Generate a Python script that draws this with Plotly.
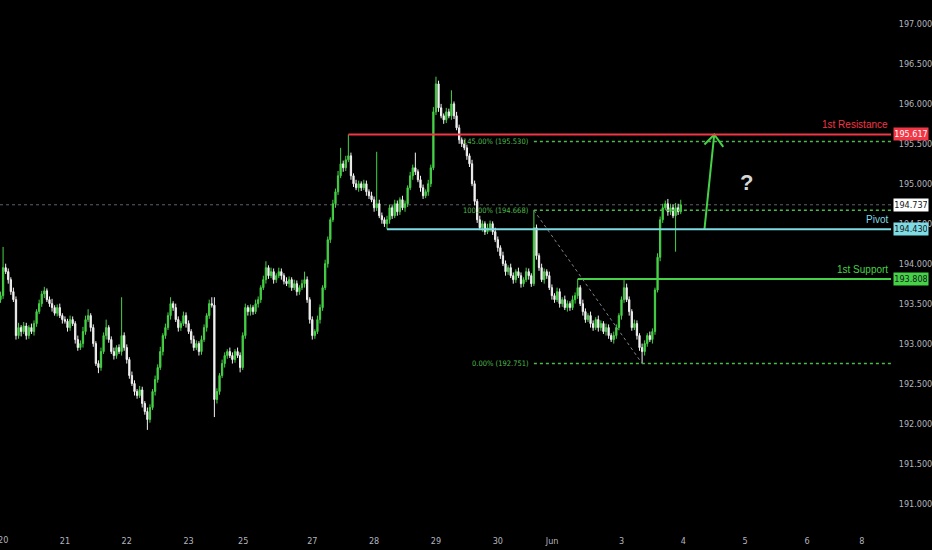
import plotly.graph_objects as go

# ---------------- DATA (hourly bars, index 0 = start of May 20) ----------------
bar_start = -1
closes_pre = [193.60]
closes_d20 = [193.95, 193.90, 193.80, 193.65, 193.55, 193.10, 193.20, 193.15, 193.22, 193.10, 193.20, 193.15,
              193.25, 193.40, 193.50, 193.62, 193.66, 193.55, 193.50, 193.45, 193.38, 193.45, 193.35, 193.30]
closes_d21 = [193.28, 193.20, 193.30, 193.25, 193.05, 192.95, 193.00, 193.15, 193.30, 193.35, 193.20, 193.00,
              192.75, 192.70, 192.90, 193.10, 193.20, 193.05, 192.90, 192.85, 192.95, 192.90, 193.10, 192.95]
closes_d22 = [192.80, 192.60, 192.50, 192.40, 192.35, 192.42, 192.25, 192.15, 192.05, 192.20, 192.40, 192.55,
              192.70, 192.90, 193.10, 193.20, 193.35, 193.50, 193.45, 193.30, 193.20, 193.25, 193.35, 193.25]
closes_d23 = [193.15, 193.05, 192.95, 193.00, 192.90, 193.05, 193.20, 193.35, 193.50, 193.48, 192.30, 192.40,
              192.60, 192.75, 192.85, 192.90, 192.85, 192.80, 192.90, 192.85, 192.70]
closes_d25 = [193.10, 193.45, 193.40]
closes_d26 = [193.45, 193.40, 193.50, 193.55, 193.70, 193.80, 193.95, 193.85, 193.90, 193.80, 193.85, 193.90,
              193.85, 193.78, 193.75, 193.80, 193.70, 193.75, 193.65, 193.70, 193.75, 193.80, 193.55, 193.30]
closes_d27 = [193.10, 193.15, 193.30, 193.45, 193.70, 194.00, 194.30, 194.55, 194.75, 194.90, 195.10, 195.25,
              195.20, 195.30, 195.35, 195.10, 195.00, 194.95, 195.00, 194.95, 195.00, 194.90, 194.85, 194.80]
closes_d28 = [194.70, 194.75, 194.60, 194.55, 194.50, 194.55, 194.70, 194.60, 194.75, 194.65, 194.80, 194.70,
              194.75, 194.95, 195.10, 195.20, 195.15, 195.05, 194.95, 194.85, 194.90, 195.00, 195.20, 195.90]
closes_d29 = [196.25, 195.95, 195.85, 195.80, 195.90, 195.85, 196.00, 195.85, 195.70, 195.55, 195.50, 195.45,
              195.35, 195.25, 195.00, 194.78, 194.55, 194.45, 194.50, 194.40, 194.45, 194.50, 194.40, 194.30]
closes_d30 = [194.20, 194.10, 194.00, 193.90, 193.95, 193.85, 193.80, 193.90, 193.85, 193.75, 193.80, 193.90,
              193.85, 193.75, 194.45, 194.10, 193.95, 193.80, 193.90, 193.85, 193.70]
closes_j1 = [193.60, 193.55, 193.65]
closes_j2 = [193.50, 193.55, 193.45, 193.50, 193.45, 193.55, 193.60, 193.70, 193.50, 193.40, 193.30, 193.35,
             193.25, 193.20, 193.30, 193.20, 193.25, 193.15, 193.20, 193.10, 193.05, 193.10, 193.20, 193.35]
closes_j3 = [193.55, 193.70, 193.55, 193.40, 193.20, 193.25, 193.10, 192.95, 192.90, 193.00, 193.10, 193.05,
             193.15, 193.67, 194.08, 194.55, 194.70, 194.75, 194.65, 194.70, 194.60, 194.70, 194.65, 194.737]

upper_pre = [0.05]
upper_d20 = [0.26, 0.05, 0.04, 0.03, 0.05, 0.04, 0.06, 0.03, 0.05, 0.04, 0.03, 0.05, 0.04, 0.03, 0.05, 0.04, 0.05, 0.03, 0.04, 0.06, 0.03, 0.04, 0.05, 0.03]
upper_d21 = [0.04, 0.03, 0.05, 0.04, 0.03, 0.05, 0.04, 0.06, 0.05, 0.08, 0.03, 0.04, 0.03, 0.04, 0.05, 0.04, 0.10, 0.03, 0.04, 0.05, 0.03, 0.04, 0.48, 0.04]
upper_d22 = [0.04, 0.03, 0.05, 0.04, 0.03, 0.05, 0.04, 0.03, 0.05, 0.04, 0.03, 0.05, 0.04, 0.06, 0.03, 0.05, 0.04, 0.08, 0.03, 0.05, 0.04, 0.03, 0.05, 0.04]
upper_d23 = [0.04, 0.03, 0.05, 0.04, 0.03, 0.05, 0.04, 0.03, 0.05, 0.08, 0.10, 0.04, 0.03, 0.05, 0.04, 0.03, 0.05, 0.04, 0.03, 0.05, 0.04]
upper_d25 = [0.04, 0.05, 0.03]
upper_d26 = [0.04, 0.03, 0.05, 0.04, 0.03, 0.05, 0.08, 0.03, 0.05, 0.04, 0.03, 0.05, 0.04, 0.03, 0.05, 0.04, 0.03, 0.05, 0.04, 0.03, 0.05, 0.10, 0.04, 0.03]
upper_d27 = [0.04, 0.03, 0.05, 0.04, 0.03, 0.05, 0.04, 0.03, 0.05, 0.04, 0.06, 0.20, 0.04, 0.05, 0.267, 0.04, 0.03, 0.05, 0.04, 0.03, 0.05, 0.04, 0.03, 0.05]
upper_d28 = [0.04, 0.65, 0.05, 0.04, 0.03, 0.05, 0.04, 0.03, 0.05, 0.04, 0.03, 0.05, 0.04, 0.03, 0.05, 0.04, 0.19, 0.03, 0.05, 0.04, 0.03, 0.05, 0.04, 0.06]
upper_d29 = [0.09, 0.04, 0.05, 0.03, 0.05, 0.04, 0.17, 0.03, 0.05, 0.04, 0.03, 0.05, 0.04, 0.03, 0.05, 0.04, 0.03, 0.05, 0.04, 0.03, 0.05, 0.04, 0.03, 0.05]
upper_d30 = [0.04, 0.03, 0.05, 0.04, 0.03, 0.05, 0.04, 0.03, 0.05, 0.04, 0.03, 0.05, 0.04, 0.03, 0.218, 0.04, 0.03, 0.05, 0.04, 0.03, 0.05]
upper_j1 = [0.04, 0.03, 0.05]
upper_j2 = [0.04, 0.03, 0.05, 0.04, 0.03, 0.05, 0.04, 0.108, 0.03, 0.05, 0.04, 0.03, 0.05, 0.04, 0.03, 0.05, 0.04, 0.03, 0.05, 0.04, 0.03, 0.05, 0.04, 0.03]
upper_j3 = [0.04, 0.11, 0.05, 0.04, 0.03, 0.05, 0.04, 0.03, 0.05, 0.04, 0.03, 0.05, 0.04, 0.03, 0.05, 0.04, 0.05, 0.04, 0.06, 0.05, 0.04, 0.06, 0.05, 0.063]

lower_pre = [0.04]
lower_d20 = [0.04, 0.03, 0.05, 0.04, 0.03, 0.05, 0.04, 0.06, 0.03, 0.05, 0.04, 0.03, 0.05, 0.04, 0.03, 0.04, 0.05, 0.03, 0.04, 0.05, 0.03, 0.04, 0.03, 0.05]
lower_d21 = [0.03, 0.05, 0.04, 0.03, 0.05, 0.04, 0.03, 0.05, 0.04, 0.03, 0.05, 0.04, 0.03, 0.07, 0.04, 0.03, 0.05, 0.04, 0.03, 0.05, 0.04, 0.03, 0.05, 0.04]
lower_d22 = [0.05, 0.04, 0.03, 0.05, 0.04, 0.03, 0.05, 0.04, 0.13, 0.04, 0.03, 0.05, 0.04, 0.03, 0.05, 0.04, 0.03, 0.05, 0.04, 0.03, 0.05, 0.04, 0.03, 0.05]
lower_d23 = [0.03, 0.05, 0.04, 0.03, 0.05, 0.04, 0.03, 0.05, 0.04, 0.03, 0.22, 0.05, 0.04, 0.03, 0.05, 0.04, 0.03, 0.05, 0.04, 0.03, 0.06]
lower_d25 = [0.03, 0.04, 0.05]
lower_d26 = [0.05, 0.04, 0.03, 0.05, 0.04, 0.03, 0.05, 0.04, 0.03, 0.05, 0.04, 0.03, 0.05, 0.04, 0.03, 0.05, 0.04, 0.03, 0.05, 0.04, 0.03, 0.05, 0.04, 0.05]
lower_d27 = [0.05, 0.04, 0.03, 0.05, 0.04, 0.03, 0.05, 0.04, 0.03, 0.05, 0.04, 0.03, 0.05, 0.04, 0.03, 0.05, 0.04, 0.03, 0.05, 0.04, 0.03, 0.05, 0.04, 0.03]
lower_d28 = [0.05, 0.04, 0.03, 0.05, 0.04, 0.07, 0.05, 0.04, 0.03, 0.05, 0.04, 0.03, 0.05, 0.04, 0.03, 0.05, 0.04, 0.03, 0.05, 0.04, 0.03, 0.05, 0.04, 0.03]
lower_d29 = [0.04, 0.05, 0.03, 0.05, 0.04, 0.03, 0.05, 0.04, 0.03, 0.05, 0.04, 0.03, 0.05, 0.04, 0.03, 0.05, 0.04, 0.03, 0.05, 0.04, 0.03, 0.05, 0.04, 0.03]
lower_d30 = [0.05, 0.04, 0.03, 0.05, 0.04, 0.03, 0.05, 0.04, 0.03, 0.05, 0.04, 0.03, 0.05, 0.04, 0.03, 0.05, 0.04, 0.03, 0.05, 0.04, 0.03]
lower_j1 = [0.05, 0.04, 0.03]
lower_j2 = [0.05, 0.04, 0.03, 0.05, 0.04, 0.03, 0.05, 0.04, 0.03, 0.05, 0.04, 0.03, 0.05, 0.04, 0.03, 0.05, 0.04, 0.03, 0.05, 0.04, 0.03, 0.05, 0.04, 0.03]
lower_j3 = [0.05, 0.04, 0.03, 0.05, 0.04, 0.03, 0.05, 0.04, 0.149, 0.05, 0.04, 0.03, 0.05, 0.04, 0.03, 0.05, 0.04, 0.03, 0.05, 0.04, 0.03, 0.45, 0.04, 0.03]

first_open = 193.55

# x-axis ticks (bar index of each date label)
tick_pos = [0, 24, 48, 72, 93.2, 120, 144, 168, 192, 213.1, 240, 264, 288, 312, 333.3]
tick_text = ["20", "21", "22", "23", "25", "27", "28", "29", "30", "Jun", "3", "4", "5", "6", "8"]
x_range = [-1.2, 344.6]
y_range = [190.767, 197.300]
y_ticks = [191.0, 191.5, 192.0, 192.5, 193.0, 193.5, 194.0, 194.5, 195.0, 195.5, 196.0, 196.5, 197.0]

# levels
resistance = 195.617
resistance_start = 134
pivot = 194.430
pivot_start = 149
support = 193.808
support_start = 223
fib_high_bar, fib_high = 206, 194.668
fib_low_bar, fib_low = 248, 192.751
fib_ratios = [145.00, 100.00, 0.00]
fib_values = [195.530, 194.668, 192.751]
arrow_bars = [272.2, 276.0]
arrow_chevron_bars = [272.2, 276.0, 279.5]
question_bar, question_price = 288.6, 195.01

# ---------------- BUILD ----------------
closes = (closes_pre + closes_d20 + closes_d21 + closes_d22 + closes_d23 + closes_d25 + closes_d26 +
          closes_d27 + closes_d28 + closes_d29 + closes_d30 + closes_j1 + closes_j2 + closes_j3)
uppers = (upper_pre + upper_d20 + upper_d21 + upper_d22 + upper_d23 + upper_d25 + upper_d26 +
          upper_d27 + upper_d28 + upper_d29 + upper_d30 + upper_j1 + upper_j2 + upper_j3)
lowers = (lower_pre + lower_d20 + lower_d21 + lower_d22 + lower_d23 + lower_d25 + lower_d26 +
          lower_d27 + lower_d28 + lower_d29 + lower_d30 + lower_j1 + lower_j2 + lower_j3)
opens = [first_open] + closes[:-1]
highs = [max(o, c) + u for o, c, u in zip(opens, closes, uppers)]
lows = [min(o, c) - l for o, c, l in zip(opens, closes, lowers)]
xs = list(range(bar_start, bar_start + len(closes)))
last_price = closes[-1]

GREEN = "#46d246"
WHITE = "#f2f2f2"
RED = "#f23645"
CYAN = "#7fdbe3"
LGREEN = "#4cbb4c"
AXIS_TXT = "#b2b5be"
NARROW = "Liberation Sans Narrow, DejaVu Sans Condensed, Arial Narrow, sans-serif"

fig = go.Figure()
fig.add_trace(go.Candlestick(
    x=xs, open=opens, high=highs, low=lows, close=closes,
    increasing=dict(line=dict(color=GREEN, width=1), fillcolor=GREEN),
    decreasing=dict(line=dict(color=WHITE, width=1), fillcolor=WHITE),
    whiskerwidth=0, showlegend=False, hoverinfo="skip"))

shapes = []
shapes.append(dict(type="line", xref="x", yref="y", x0=x_range[0], x1=x_range[1], y0=last_price, y1=last_price,
                   line=dict(color="#5d606b", width=1, dash="dot"), layer="below"))
for lvl, start, col in [(resistance, resistance_start, RED), (pivot, pivot_start, CYAN), (support, support_start, GREEN)]:
    shapes.append(dict(type="line", xref="x", yref="y", x0=start, x1=x_range[1], y0=lvl, y1=lvl,
                       line=dict(color=col, width=2)))
annotations = []
for r, val in zip(fib_ratios, fib_values):
    shapes.append(dict(type="line", xref="x", yref="y", x0=fib_high_bar, x1=x_range[1], y0=val, y1=val,
                       line=dict(color=LGREEN, width=1.5, dash="dot")))
    annotations.append(dict(xref="x", yref="y", x=fib_high_bar, y=val, xanchor="right", yanchor="middle",
                            xshift=-3, showarrow=False, text=f"{r:.2f}% ({val:.3f})",
                            font=dict(family=NARROW, size=7.5, color=LGREEN)))
shapes.append(dict(type="line", xref="x", yref="y", x0=fib_high_bar, x1=fib_low_bar, y0=fib_high, y1=fib_low,
                   line=dict(color="#80838c", width=1, dash="dot")))

fig.add_trace(go.Scatter(x=arrow_bars, y=[pivot, resistance], mode="lines",
                         line=dict(color=GREEN, width=2), showlegend=False, hoverinfo="skip"))
fig.add_trace(go.Scatter(x=arrow_chevron_bars, y=[resistance - 0.125, resistance, resistance - 0.155], mode="lines",
                         line=dict(color=GREEN, width=2), showlegend=False, hoverinfo="skip"))

for txt, lvl, col in [("1st Resistance", resistance, RED), ("Pivot", pivot, CYAN), ("1st Support", support, GREEN)]:
    annotations.append(dict(xref="paper", yref="y", x=1, y=lvl, xanchor="right", yanchor="bottom",
                            xshift=-1, yshift=2, showarrow=False, text=txt,
                            font=dict(family="Liberation Sans, Arial, sans-serif", size=10, color=col)))
for lvl, bg, fg in [(resistance, RED, "#ffffff"), (last_price, "#ffffff", "#131722"),
                    (pivot, CYAN, "#131722"), (support, GREEN, "#131722")]:
    annotations.append(dict(xref="paper", yref="y", x=1, y=lvl, xanchor="left", yanchor="middle",
                            xshift=2, showarrow=False, text=f"{lvl:.3f}", bgcolor=bg, borderpad=1,
                            width=32, align="center",
                            font=dict(family=NARROW, size=9, color=fg)))
annotations.append(dict(xref="x", yref="y", x=question_bar, y=question_price, showarrow=False, text="<b>?</b>",
                        font=dict(family="Liberation Sans, Arial, sans-serif", size=22, color="#d6d6d6")))
# first date label (sits on the left edge, as in the reference)
annotations.append(dict(xref="x", yref="paper", x=tick_pos[0], y=0, yanchor="top", yshift=-11, showarrow=False,
                        text=tick_text[0], font=dict(family=NARROW, size=9, color=AXIS_TXT)))

fig.update_layout(
    width=932, height=550, margin=dict(l=0, r=39, t=0, b=28),
    paper_bgcolor="#000000", plot_bgcolor="#000000",
    shapes=shapes, annotations=annotations, showlegend=False,
    xaxis=dict(range=x_range, tickmode="array", tickvals=tick_pos[1:], ticktext=tick_text[1:],
               showgrid=False, zeroline=False, showline=False, rangeslider=dict(visible=False),
               ticks="outside", ticklen=10, tickcolor="rgba(0,0,0,0)",
               tickfont=dict(family=NARROW, size=9, color=AXIS_TXT)),
    yaxis=dict(range=y_range, side="right", tickmode="array", tickvals=y_ticks,
               ticktext=[f"{v:.3f}" for v in y_ticks], showgrid=False, zeroline=False, showline=False,
               ticks="outside", ticklen=5, tickcolor="rgba(0,0,0,0)",
               tickfont=dict(family=NARROW, size=9, color=AXIS_TXT)),
)

fig.write_html("out.html", config={"displayModeBar": False},
               post_script="document.body.style.margin='0';document.body.style.background='#000';document.body.style.overflow='hidden';")
